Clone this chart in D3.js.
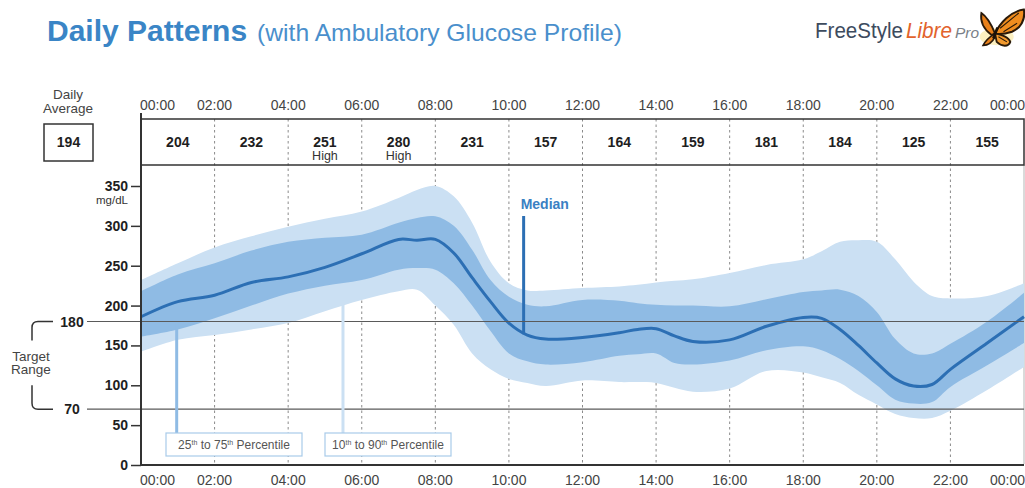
<!DOCTYPE html>
<html>
<head>
<meta charset="utf-8">
<script src="https://cdn.jsdelivr.net/npm/d3@7"></script>
<style>
  body { margin: 0; background: #fff; }
  svg { font-family: "Liberation Sans", Arial, sans-serif; }
</style>
</head>
<body>
<svg id="agp" width="1025" height="488"></svg>
<script>
// hours of the day the profile was read at
const hours = [0,1,2,3,4,5,6,7,7.5,8,8.5,9,9.5,10,10.5,11,12,13,13.5,14,14.5,15,16,17,18,18.5,19,19.5,20,20.5,21,21.5,22,23,24];
const median = [186,205,213,229,236,248,265,283,282,283,266,235,205,178,163,158,160,166,170,171,162,155,157,174,185,184,170,150,128,108,99,101,120,153,186];
const p75 = [218,239,253,269,280,285,289,304,310,312,300,270,232,211,201,199,207,206,203,201,200,200,199,208,217,219,220,212,192,158,140,140,152,180,216];
const p25 = [161,170,184,200,215,225,232,245,247,245,228,200,168,140,130,126,129,137,139,140,128,126,131,144,149,144,133,118,100,82,77,79,98,125,153];
const p90 = [232,253,273,287,299,309,318,335,345,350,337,304,255,228,219,219,222,224,226,229,231,233,241,251,258,268,280,282,280,258,230,212,209,212,228];
const p10 = [142,157,163,170,178,193,207,218,220,200,176,140,120,108,103,99,106,104,104,103,97,92,96,118,116,110,103,88,76,64,59,59,68,94,123];

const timeTicks = [0,2,4,6,8,10,12,14,16,18,20,22,24];
const timeLabels = ["00:00","02:00","04:00","06:00","08:00","10:00","12:00","14:00","16:00","18:00","20:00","22:00","00:00"];
const periodValues = ["204","232","251","280","231","157","164","159","181","184","125","155"];
const periodNotes = ["","","High","High","","","","","","","",""];
const dailyAverage = "194";
const glucoseTicks = [0,50,100,150,200,250,300,350];
const targetRange = [70, 180];

const colLight = "#cbe0f3";
const colMid = "#8fbbe4";
const colLine = "#2c6fb4";
const colTitle = "#3a85c6";

const svg = d3.select("#agp");

const x = d3.scaleLinear().domain([0, 24]).range([141, 1024]);
const y = d3.scaleLinear().domain([0, 350]).range([465, 186]);

// ---- title + logo
svg.append("text").attr("x", 47).attr("y", 41)
    .attr("font-weight", "bold").attr("font-size", 30).attr("fill", colTitle)
    .text("Daily Patterns");
svg.append("text").attr("x", 257).attr("y", 41)
    .attr("font-size", 24).attr("fill", "#4a8fcc")
    .attr("textLength", 365).attr("lengthAdjust", "spacingAndGlyphs")
    .text("(with Ambulatory Glucose Profile)");

const logo = svg.append("g");
logo.append("text").attr("x", 815).attr("y", 38)
    .attr("font-size", 22).attr("fill", "#3d4b5e")
    .attr("textLength", 88).attr("lengthAdjust", "spacingAndGlyphs")
    .text("FreeStyle");
logo.append("text").attr("x", 906).attr("y", 38)
    .attr("font-size", 22).attr("font-style", "italic").attr("fill", "#e2632c")
    .attr("textLength", 46).attr("lengthAdjust", "spacingAndGlyphs")
    .text("Libre");
logo.append("text").attr("x", 955).attr("y", 38)
    .attr("font-size", 15).attr("font-style", "italic").attr("fill", "#7a7f88")
    .attr("textLength", 24).attr("lengthAdjust", "spacingAndGlyphs")
    .text("Pro");

// butterfly
const bf = logo.append("g").attr("transform", "translate(995,30) scale(0.85)");
bf.append("ellipse").attr("cx", 2).attr("cy", 8).attr("rx", 20).attr("ry", 10)
    .attr("fill", "#fbe9a6").attr("opacity", 0.7);
bf.append("path")
    .attr("d", "M0,4 C6,-8 18,-22 34,-24 C36,-12 30,-2 20,2 C14,4 6,6 0,4 Z")
    .attr("fill", "#f08d1f").attr("stroke", "#2a1a0a").attr("stroke-width", 2.4);
bf.append("path")
    .attr("d", "M0,4 C-4,-6 -10,-16 -16,-20 C-18,-8 -12,0 -4,6 Z")
    .attr("fill", "#e8801a").attr("stroke", "#2a1a0a").attr("stroke-width", 2.2);
bf.append("path")
    .attr("d", "M0,4 C8,6 16,8 18,14 C16,20 8,20 2,14 Z")
    .attr("fill", "#f29a2e").attr("stroke", "#2a1a0a").attr("stroke-width", 2.2);
bf.append("path")
    .attr("d", "M0,4 C-6,8 -12,14 -14,18 C-8,18 -3,14 0,8 Z")
    .attr("fill", "#e8801a").attr("stroke", "#2a1a0a").attr("stroke-width", 2);
bf.append("path").attr("d", "M6,-2 L28,-20 M10,2 L26,-8 M4,8 L14,14")
    .attr("stroke", "#2a1a0a").attr("stroke-width", 1.3).attr("fill", "none");
bf.append("line").attr("x1", -2).attr("y1", 10).attr("x2", 3).attr("y2", -3)
    .attr("stroke", "#1a1008").attr("stroke-width", 3);

// ---- header row
const headTop = 119, headBottom = 165;

svg.append("g").selectAll("line")
    .data(timeTicks.slice(1, -1))
    .join("line")
    .attr("x1", d => x(d)).attr("x2", d => x(d))
    .attr("y1", headTop).attr("y2", 464)
    .attr("stroke", "#8a8a8a").attr("stroke-width", 1)
    .attr("stroke-dasharray", "2.5,3");

svg.append("line").attr("x1", x(24)).attr("x2", x(24))
    .attr("y1", headBottom).attr("y2", 464)
    .attr("stroke", "#b5b5b5").attr("stroke-width", 1);

svg.append("path")
    .attr("d", `M${x(0)},${headTop} H${x(24)} V${headBottom} H${x(0)}`)
    .attr("fill", "none").attr("stroke", "#333").attr("stroke-width", 1.5);

const edgeX = (d, i) => i === 0 ? x(d) - 1 : (i === timeTicks.length - 1 ? x(d) + 1 : x(d));
const edgeAnchor = (d, i) => i === 0 ? "start" : (i === timeTicks.length - 1 ? "end" : "middle");

svg.append("g").selectAll("text")
    .data(timeTicks)
    .join("text")
    .attr("x", edgeX).attr("y", 110)
    .attr("text-anchor", edgeAnchor)
    .attr("font-size", 14).attr("fill", "#444")
    .text((d, i) => timeLabels[i]);

const periods = svg.append("g").selectAll("g")
    .data(periodValues)
    .join("g")
    .attr("transform", (d, i) => `translate(${x(i * 2 + 1)},0)`);
periods.append("text")
    .attr("y", 147).attr("text-anchor", "middle")
    .attr("font-size", 14).attr("font-weight", "bold").attr("fill", "#1e1e1e")
    .text(d => d);
periods.append("text")
    .attr("y", 159.5).attr("text-anchor", "middle")
    .attr("font-size", 12.5).attr("fill", "#333")
    .text((d, i) => periodNotes[i]);

// daily average
svg.append("text").attr("x", 68).attr("y", 99).attr("text-anchor", "middle")
    .attr("font-size", 13.5).attr("fill", "#444").text("Daily");
svg.append("text").attr("x", 68).attr("y", 113).attr("text-anchor", "middle")
    .attr("font-size", 13.5).attr("fill", "#444").text("Average");
svg.append("rect").attr("x", 44).attr("y", 124).attr("width", 49).attr("height", 37)
    .attr("fill", "none").attr("stroke", "#333").attr("stroke-width", 1.5);
svg.append("text").attr("x", 68.5).attr("y", 147).attr("text-anchor", "middle")
    .attr("font-size", 14).attr("font-weight", "bold").attr("fill", "#1e1e1e")
    .text(dailyAverage);

// ---- bands + median
const smooth = d3.curveCatmullRom.alpha(0.5);
const band = (lo, hi) => d3.area()
    .x((d, i) => x(hours[i]))
    .y0((d, i) => y(lo[i]))
    .y1((d, i) => y(hi[i]))
    .curve(smooth);

svg.append("path").datum(hours).attr("d", band(p10, p90)).attr("fill", colLight);
svg.append("path").datum(hours).attr("d", band(p25, p75)).attr("fill", colMid);
svg.append("path").datum(hours)
    .attr("d", d3.line().x((d, i) => x(hours[i])).y((d, i) => y(median[i])).curve(smooth))
    .attr("fill", "none").attr("stroke", colLine).attr("stroke-width", 3);

// median callout
svg.append("line").attr("x1", x(10.4)).attr("x2", x(10.4))
    .attr("y1", 216).attr("y2", y(164))
    .attr("stroke", colLine).attr("stroke-width", 3);
svg.append("text").attr("x", x(10.4) - 3).attr("y", 209)
    .attr("font-size", 14).attr("font-weight", "bold").attr("fill", "#3a80c3")
    .text("Median");

// ---- target range lines + bracket
svg.append("g").selectAll("line")
    .data(targetRange)
    .join("line")
    .attr("x1", 87).attr("x2", x(24))
    .attr("y1", d => y(d)).attr("y2", d => y(d))
    .attr("stroke", "#5a5a5a").attr("stroke-width", 1.2);
svg.append("g").selectAll("text")
    .data(targetRange)
    .join("text")
    .attr("x", 72).attr("y", d => y(d) + 5)
    .attr("text-anchor", "middle")
    .attr("font-size", 14).attr("font-weight", "bold").attr("fill", "#1e1e1e")
    .text(d => d);

const yHi = y(180), yLo = y(70);
svg.append("path")
    .attr("d", `M53,${yHi} H38 Q32,${yHi} 32,${yHi + 6} V${yHi + 19}
                M32,${yLo - 24} V${yLo - 6} Q32,${yLo} 38,${yLo} H53`)
    .attr("fill", "none").attr("stroke", "#333").attr("stroke-width", 1.5);
svg.append("text").attr("x", 31).attr("y", 361).attr("text-anchor", "middle")
    .attr("font-size", 13.5).attr("fill", "#444").text("Target");
svg.append("text").attr("x", 31).attr("y", 374).attr("text-anchor", "middle")
    .attr("font-size", 13.5).attr("fill", "#444").text("Range");

// ---- glucose axis
const yAxis = svg.append("g")
    .attr("transform", `translate(${x(0)},0)`)
    .call(d3.axisLeft(y).tickValues(glucoseTicks).tickSize(10).tickPadding(3));
yAxis.select(".domain").remove();
yAxis.selectAll(".tick line").attr("stroke", "#333").attr("stroke-width", 1.5);
yAxis.selectAll(".tick text")
    .attr("font-family", "Liberation Sans, Arial, sans-serif")
    .attr("font-size", 14).attr("font-weight", "bold").attr("fill", "#1e1e1e");
svg.append("text").attr("x", 128).attr("y", 204).attr("text-anchor", "end")
    .attr("font-size", 11.5).attr("fill", "#333").text("mg/dL");

svg.append("line").attr("x1", x(0)).attr("x2", x(0))
    .attr("y1", 113).attr("y2", 465)
    .attr("stroke", "#333").attr("stroke-width", 2);
svg.append("line").attr("x1", x(0) - 1).attr("x2", x(24))
    .attr("y1", y(0)).attr("y2", y(0))
    .attr("stroke", "#333").attr("stroke-width", 2);

// bottom time labels
svg.append("g").selectAll("text")
    .data(timeTicks)
    .join("text")
    .attr("x", edgeX).attr("y", 485)
    .attr("text-anchor", edgeAnchor)
    .attr("font-size", 14).attr("fill", "#444")
    .text((d, i) => timeLabels[i]);

// ---- percentile legend callouts
const legends = [
  {hour: 0.97, from: 176, color: colMid, box: [166, 302], lo: "25", hi: "75"},
  {hour: 5.49, from: 206, color: colLight, box: [325, 451], lo: "10", hi: "90"}
];
legends.forEach(l => {
  svg.append("line").attr("x1", x(l.hour)).attr("x2", x(l.hour))
      .attr("y1", y(l.from)).attr("y2", 433)
      .attr("stroke", l.color).attr("stroke-width", 3);
  svg.append("rect").attr("x", l.box[0]).attr("y", 433)
      .attr("width", l.box[1] - l.box[0]).attr("height", 23)
      .attr("fill", "#fff").attr("stroke", "#a9cbe9").attr("stroke-width", 1.2);
  const t = svg.append("text").attr("x", (l.box[0] + l.box[1]) / 2).attr("y", 449)
      .attr("text-anchor", "middle").attr("font-size", 12).attr("fill", "#555");
  t.append("tspan").text(l.lo);
  t.append("tspan").text("th").attr("font-size", 7).attr("dy", -4);
  t.append("tspan").text(" to " + l.hi).attr("dy", 4);
  t.append("tspan").text("th").attr("font-size", 7).attr("dy", -4);
  t.append("tspan").text(" Percentile").attr("dy", 4);
});
</script>
</body>
</html>
